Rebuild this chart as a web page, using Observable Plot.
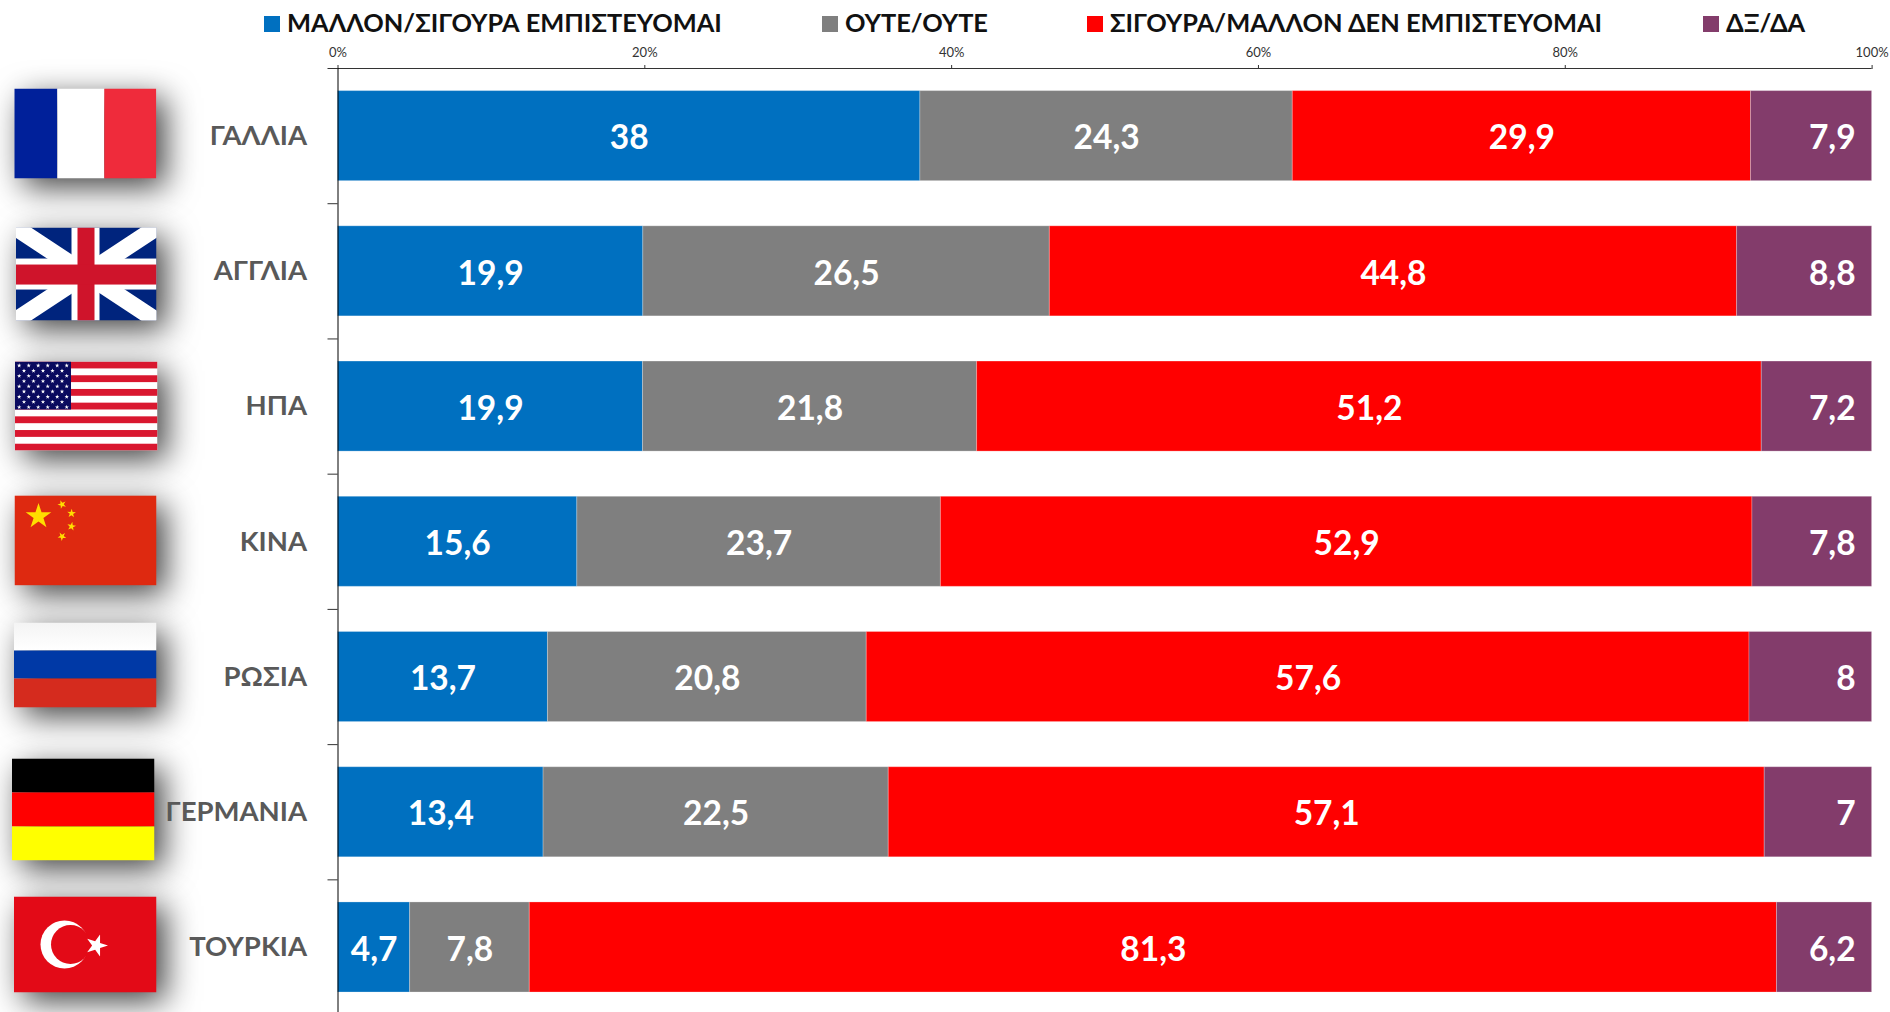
<!DOCTYPE html>
<html lang="el">
<head>
<meta charset="utf-8">
<script src="https://cdn.jsdelivr.net/npm/d3@7"></script>
<script src="https://cdn.jsdelivr.net/npm/@observablehq/plot@0.6"></script>
<style>
html,body{margin:0;padding:0;background:#fff;width:1890px;height:1012px;overflow:hidden}
#chart{position:relative;width:1890px;height:1012px;font-family:Lato,"Noto Sans",sans-serif}
#chart svg{display:block;position:absolute;left:0;top:0;overflow:hidden}
.lg{position:absolute;top:6px;height:32px;line-height:32px;font-size:25.4px;font-weight:700;color:#111;white-space:nowrap}
.lg i{position:absolute;left:0;top:10px;width:16px;height:16px}
.lg span{position:absolute;left:23px;top:0}
</style>
</head>
<body>
<div id="chart"></div>
<script>
const countries = ["ΓΑΛΛΙΑ","ΑΓΓΛΙΑ","ΗΠΑ","ΚΙΝΑ","ΡΩΣΙΑ","ΓΕΡΜΑΝΙΑ","ΤΟΥΡΚΙΑ"];
const seriesNames = ["ΜΑΛΛΟΝ/ΣΙΓΟΥΡΑ ΕΜΠΙΣΤΕΥΟΜΑΙ","ΟΥΤΕ/ΟΥΤΕ","ΣΙΓΟΥΡΑ/ΜΑΛΛΟΝ ΔΕΝ ΕΜΠΙΣΤΕΥΟΜΑΙ","ΔΞ/ΔΑ"];
const seriesColors = ["#0070c0","#7f7f7f","#ff0000","#833c6b"];
const trust    = [38,19.9,19.9,15.6,13.7,13.4,4.7];
const neither  = [24.3,26.5,21.8,23.7,20.8,22.5,7.8];
const distrust = [29.9,44.8,51.2,52.9,57.6,57.1,81.3];
const dkna     = [7.9,8.8,7.2,7.8,8,7,6.2];
const seriesValues = [trust,neither,distrust,dkna];
const tickValues = [0,0.2,0.4,0.6,0.8,1];
const legendLeft = [264,822,1087,1703];

const rows = seriesNames.flatMap((s,i)=>countries.map((c,j)=>({country:c,series:s,value:seriesValues[i][j]})));
const label = d=>String(d.value).replace(".",",");
const lastSeries = seriesNames[seriesNames.length-1];

// flag artwork
function star(cx,cy,r,rot=-90,inner=0.382){
  const p=[];
  for(let i=0;i<10;i++){const a=(rot+i*36)*Math.PI/180,q=i%2?r*inner:r;p.push((cx+q*Math.cos(a)).toFixed(2)+","+(cy+q*Math.sin(a)).toFixed(2));}
  return p.join(" ");
}
const svgUrl=(w,h,body)=>"data:image/svg+xml,"+encodeURIComponent(`<svg xmlns="http://www.w3.org/2000/svg" width="${w}" height="${h}" viewBox="0 0 ${w} ${h}" preserveAspectRatio="none">${body}</svg>`);
function usFlag(){
  const W=143,H=89,s=H/13;let b=`<rect width="${W}" height="${H}" fill="#fff"/>`;
  for(let i=0;i<13;i+=2)b+=`<rect y="${i*s}" width="${W}" height="${s}" fill="#d9172f"/>`;
  b+=`<rect width="${W*0.395}" height="${s*7}" fill="#0a0a5e"/>`;
  for(let r=0;r<9;r++){const n=r%2?5:6;for(let c=0;c<n;c++){
    const x=(r%2?9.5:4.7)+c*9.5,y=4+r*5.2;
    b+=`<polygon points="${star(x,y,2.3)}" fill="#fff"/>`;
  }}
  return svgUrl(W,H,b);
}
const flags=[
 {src:svgUrl(142,90,`<rect width="43" height="90" fill="#00209a"/><rect x="43" width="47" height="90" fill="#fff"/><rect x="90" width="52" height="90" fill="#ef2b3b"/>`),cx:84.8,w:142,h:90,dy:-2.6},
 {src:svgUrl(141,93,`<rect width="141" height="93" fill="#00247d"/><path d="M0,0L141,93M141,0L0,93" stroke="#fff" stroke-width="17"/><rect x="56" width="28" height="93" fill="#fff"/><rect y="31" width="141" height="31" fill="#fff"/><rect x="62" width="17" height="93" fill="#cf142b"/><rect y="37" width="141" height="20" fill="#cf142b"/>`),cx:85.5,w:141,h:93,dy:2.7},
 {src:usFlag(),cx:85.5,w:143,h:89,dy:-0.5},
 {src:svgUrl(142,90,`<rect width="142" height="90" fill="#de2910"/><polygon points="${star(24,21,13.5)}" fill="#ffde00"/><polygon points="${star(47.5,9,4.6,-40)}" fill="#ffde00"/><polygon points="${star(57,18,4.6,-15)}" fill="#ffde00"/><polygon points="${star(57,31,4.6,-80)}" fill="#ffde00"/><polygon points="${star(47.5,41,4.6,-50)}" fill="#ffde00"/>`),cx:85,w:142,h:90,dy:-1.4},
 {src:svgUrl(143,85,`<defs><linearGradient id="g" x1="0" y1="0" x2="0" y2="1"><stop offset="0" stop-color="#f4f4f4"/><stop offset="1" stop-color="#fff"/></linearGradient></defs><rect width="143" height="28" fill="url(#g)"/><rect y="28" width="143" height="28" fill="#0039a6"/><rect y="56" width="143" height="29" fill="#d52b1e"/>`),cx:84.5,w:143,h:85,dy:-12},
 {src:svgUrl(143,102,`<rect width="143" height="34" fill="#000"/><rect y="34" width="143" height="34" fill="#f00"/><rect y="68" width="143" height="34" fill="#ff0"/>`),cx:82.5,w:143,h:102,dy:-2.8},
 {src:svgUrl(143,96,`<rect width="143" height="96" fill="#e30a17"/><circle cx="51" cy="48" r="24" fill="#fff"/><circle cx="57" cy="48" r="19.5" fill="#e30a17"/><polygon points="${star(83,49,11.5,-72)}" fill="#fff"/>`),cx:84.5,w:143,h:96,dy:-3}
].map((f,i)=>({...f,country:countries[i]}));

const X0=337.5;
const valueStyle={fill:"#fff",fontSize:33.5,fontWeight:700,dy:2.5};
const chart=Plot.plot({
  width:1890,height:1012,
  marginLeft:X0,marginRight:18.4,marginTop:68,marginBottom:0,
  style:{background:"#fff",fontFamily:'Lato,"Noto Sans",sans-serif',overflow:"hidden"},
  x:{domain:[0,1],range:[X0,1871.6]},
  y:{domain:countries,range:[68,1014.6],paddingInner:0.334,paddingOuter:0.167,round:false,label:null},
  color:{domain:seriesNames,range:seriesColors},
  marks:[
    ...flags.map(f=>Plot.image([f],{
      y:"country",frameAnchor:"left",src:"src",width:f.w,height:f.h,
      dx:f.cx-X0,dy:f.dy,preserveAspectRatio:"none",
      imageFilter:"drop-shadow(9px 9px 16px rgba(0,0,0,.75))"
    })),
    Plot.barX(rows,Plot.stackX({x:"value",y:"country",fill:"series",order:null,offset:"normalize",stroke:"#fff",strokeOpacity:0.25,strokeWidth:1})),
    Plot.text(rows,Plot.stackX({x:"value",y:"country",order:null,offset:"normalize",
      text:d=>d.series===lastSeries?"":label(d),...valueStyle})),
    Plot.text(rows,{filter:d=>d.series===lastSeries,x:()=>1,y:"country",text:label,textAnchor:"end",...valueStyle,dx:-16.5}),
    Plot.axisX({anchor:"top",ticks:tickValues,tickFormat:d3.format(".0%"),tickSize:4,tickPadding:8,fontSize:13,color:"#333",label:null,stroke:"#333"}),
    Plot.ruleY(["_"],{y:()=>countries[0],x1:0,x2:1,dy:-67.6,stroke:"#333"}),
    Plot.axisY({anchor:"left",ticks:countries,tickSize:10,text:null,dy:67.6,label:null,stroke:"#333"}),
    Plot.axisY({anchor:"left",ticks:[countries[0]],tickSize:10,text:null,dy:-67.6,label:null,stroke:"#333"}),
    Plot.axisY({anchor:"left",ticks:countries,tickSize:0,tickPadding:31,fontSize:27.5,fontWeight:700,color:"#595959",label:null}),
    Plot.ruleX([0],{stroke:"#000"})
  ]
});
const root=document.getElementById("chart");
root.appendChild(chart);
seriesNames.forEach((s,i)=>{
  const d=document.createElement("div");d.className="lg";d.style.left=legendLeft[i]+"px";
  const sw=document.createElement("i");sw.style.background=seriesColors[i];
  const t=document.createElement("span");t.textContent=s;
  d.append(sw,t);root.appendChild(d);
});
</script>
</body>
</html>
